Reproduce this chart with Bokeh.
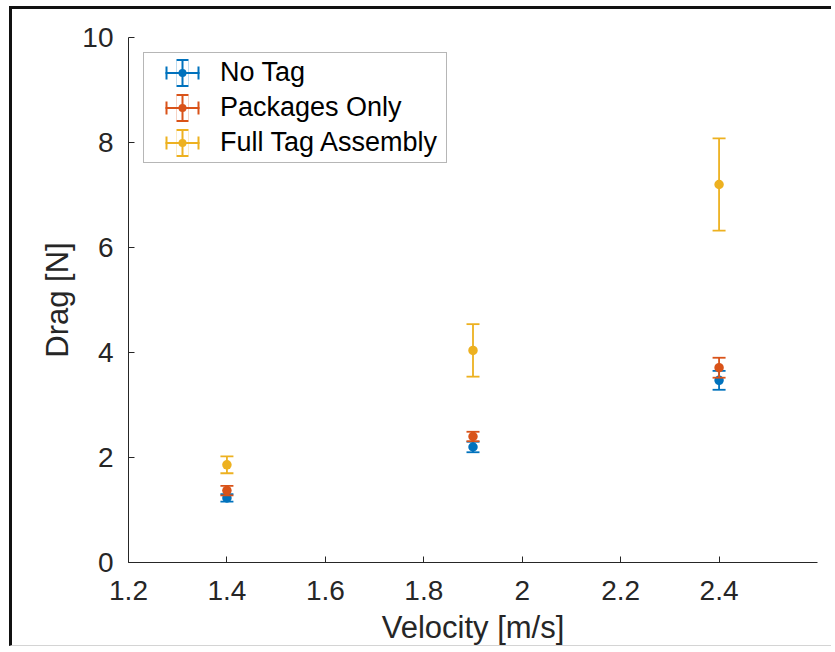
import numpy as np
from bokeh.plotting import figure
from bokeh.models import ColumnDataSource, Range1d, FixedTicker, Legend, LegendItem
from bokeh.embed import file_html
from bokeh.resources import INLINE

# ---------------- data ----------------
velocity = [1.4, 1.9, 2.4]
series_names = ["No Tag", "Packages Only", "Full Tag Assembly"]
no_tag_mean = [1.23, 2.20, 3.47]
no_tag_err = [0.07, 0.10, 0.18]
packages_mean = [1.37, 2.40, 3.71]
packages_err = [0.09, 0.09, 0.19]
full_tag_mean = [1.86, 4.04, 7.20]
full_tag_err = [0.16, 0.50, 0.88]

x_ticks = [1.2, 1.4, 1.6, 1.8, 2.0, 2.2, 2.4]
x_tick_labels = ["1.2", "1.4", "1.6", "1.8", "2", "2.2", "2.4"]
y_ticks = [0, 2, 4, 6, 8, 10]
y_tick_labels = ["0", "2", "4", "6", "8", "10"]
x_limits = [1.2, 2.6]
y_limits = [0, 10]

x_title = "Velocity [m/s]"
y_title = "Drag [N]"

colors = ["#0072BD", "#D95319", "#EDB120"]
FONT = "Liberation Sans"
AX = "#262626"

p = figure(width=822, height=640, output_backend="svg", toolbar_location=None,
           x_range=Range1d(*x_limits), y_range=Range1d(*y_limits),
           min_border_left=116, min_border_right=17, min_border_top=28,
           min_border_bottom=87, background_fill_color="white",
           border_fill_color="white")
p.styles = {"margin-left": "9px", "margin-top": "6px",
            "border-left": "3px solid #111111", "border-top": "3px solid #111111",
            "border-bottom": "1px solid #d4d4d4"}
p.outline_line_color = None
p.grid.visible = False

# axes
for ax in (p.xaxis[0], p.yaxis[0]):
    ax.axis_line_color = AX
    ax.axis_line_width = 1
    ax.major_tick_line_color = AX
    ax.major_tick_in = 6
    ax.major_tick_out = 0
    ax.minor_tick_line_color = None
    ax.major_label_text_font = FONT
    ax.major_label_text_font_size = "28px"
    ax.major_label_text_color = AX
    ax.axis_label_text_font = FONT
    ax.axis_label_text_font_size = "31px"
    ax.axis_label_text_font_style = "normal"
    ax.axis_label_text_color = AX

p.xaxis.ticker = FixedTicker(ticks=x_ticks)
p.xaxis.major_label_overrides = {t: l for t, l in zip(x_ticks, x_tick_labels)}
p.yaxis.ticker = FixedTicker(ticks=y_ticks)
p.yaxis.major_label_overrides = {t: l for t, l in zip(y_ticks, y_tick_labels)}
p.xaxis.axis_label = x_title
p.yaxis.axis_label = y_title
p.xaxis.major_label_standoff = 18
p.xaxis.axis_label_standoff = 7
p.yaxis.major_label_standoff = 15
p.yaxis.axis_label_standoff = 4

# ---------------- data marks ----------------
means = [no_tag_mean, packages_mean, full_tag_mean]
errs = [no_tag_err, packages_err, full_tag_err]
for mean, err, c in zip(means, errs, colors):
    src = ColumnDataSource(dict(
        x=velocity, y=mean,
        lower=[m - e for m, e in zip(mean, err)],
        upper=[m + e for m, e in zip(mean, err)]))
    p.segment(x0="x", y0="lower", x1="x", y1="upper", source=src,
              line_color=c, line_width=1.8)
    p.scatter(x="x", y="lower", source=src, marker="dash", size=13,
              line_color=c, line_width=1.8)
    p.scatter(x="x", y="upper", source=src, marker="dash", size=13,
              line_color=c, line_width=1.8)
    p.scatter(x="x", y="y", source=src, marker="circle", size=9.5,
              fill_color=c, line_color=None)

# ---------------- legend (error-bar icons built from dashed strokes) ----------------
items = []
for name, c in zip(series_names, colors):
    nan_src = ColumnDataSource(dict(x0=np.array([np.nan]), y0=np.array([np.nan]),
                                    x1=np.array([np.nan]), y1=np.array([np.nan])))
    seg = dict(x0="x0", y0="y0", x1="x1", y1="y1", source=nan_src)
    caps_tb = p.segment(**seg, line_color=c, line_width=28, line_dash="0 28 12 100")
    caps_cut = p.segment(**seg, line_color="white", line_width=24, line_dash="0 28 12 100")
    hbar = p.segment(**seg, line_color=c, line_width=2, line_dash="0 17 34 100")
    caps_lr = p.segment(**seg, line_color=c, line_width=13, line_dash="0 17 2 30 2 100")
    vbar = p.segment(**seg, line_color=c, line_width=27, line_dash="0 33 2 100")
    dot = p.segment(**seg, line_color=c, line_width=8, line_cap="round",
                    line_dash="0 100", line_dash_offset=66)
    items.append(LegendItem(label=name,
                            renderers=[caps_tb, caps_cut, hbar, caps_lr, vbar, dot]))

legend = Legend(items=items, location="top_left", margin=15, padding=4, spacing=4,
                glyph_width=68, glyph_height=29, label_height=29, label_width=222,
                label_standoff=4,
                label_text_font=FONT, label_text_font_size="27px",
                label_text_color="#000000", label_text_baseline="middle",
                border_line_color="#6e6e6e", border_line_width=1,
                background_fill_color="white", background_fill_alpha=1.0)
p.add_layout(legend)

open("out.html", "w").write(file_html(p, INLINE))
